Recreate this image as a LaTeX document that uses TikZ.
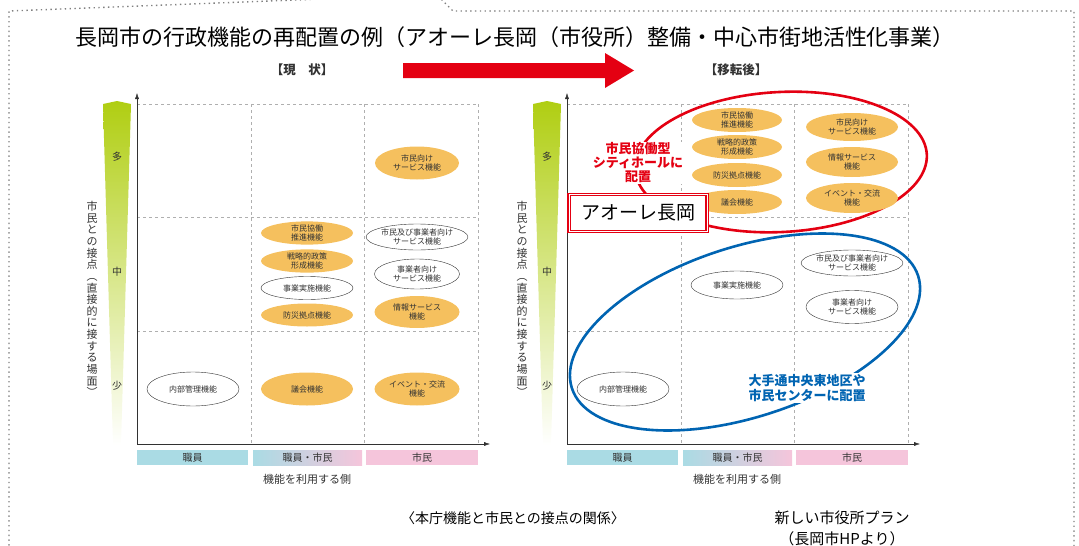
\documentclass[tikz,border=0pt]{standalone}
\usepackage{fontspec}
\setmainfont{Noto Sans CJK JP}
\usetikzlibrary{shapes.geometric,arrows.meta,positioning}

\definecolor{orgfill}{RGB}{245,192,94}
\definecolor{txtgray}{RGB}{50,50,50}
\definecolor{gridgray}{RGB}{175,175,175}
\definecolor{barblue}{RGB}{170,219,228}
\definecolor{barpink}{RGB}{245,197,219}
\definecolor{bargreen}{RGB}{176,206,18}
\definecolor{hlred}{RGB}{228,0,18}
\definecolor{hlblue}{RGB}{0,100,178}

\begin{document}
\begin{tikzpicture}[x=1pt,y=-1pt,
    func/.style={ellipse,fill=orgfill,minimum width=92pt,minimum height=26pt,inner sep=0pt,
        align=center,text=txtgray,font=\fontsize{8}{9}\selectfont},
    funcw/.style={func,fill=white,draw=txtgray,thin},
    lvl/.style={text=txtgray,font=\fontsize{10}{10}\selectfont},
    catbar/.style={minimum height=15pt,inner sep=0pt,text=txtgray,font=\fontsize{10}{10}\selectfont},
    axis/.style={txtgray,thin,{Latex[length=6pt,width=4pt]}-{Latex[length=6pt,width=4pt]}},
    gridline/.style={gridgray,dashed,thin},
    head/.style={text=txtgray,font=\bfseries\fontsize{12.5}{12.5}\selectfont}]

    \useasboundingbox (0,0) rectangle (1079,546);

    % dotted callout frame
    \begin{scope}
        \clip (0,0) rectangle (1079,546);
        \draw[gray,line width=1.4pt,dash pattern=on 1.4pt off 3.4pt] (9,560) -- (9,11) -- (400,-4);
        \draw[gray,line width=1.4pt,dash pattern=on 1.4pt off 3.4pt] (438,-4) -- (453,11) -- (1074,11) -- (1074,560);
    \end{scope}

    % title and headings
    \node (title) at (515,37) {\fontsize{22}{22}\selectfont 長岡市の行政機能の再配置の例（アオーレ長岡（市役所）整備・中心市街地活性化事業）};
    \node[head] (now) at (302,70) {【現　状】};
    \node[head] (after) at (736,70) {【移転後】};
    \fill[hlred] (403,63) -- (605,63) -- (605,53) -- (634,70.5) -- (605,88) -- (605,78) -- (403,78) -- cycle;

    % the two charts
    \foreach \ox/\nm in {0/L,430/R}{
        \shade[top color=bargreen,middle color=bargreen!45,bottom color=white]
            (103+\ox,104) -- (117+\ox,101) -- (131+\ox,104) -- (121+\ox,445) -- (113+\ox,445) -- cycle;
        \node[lvl] (many\nm) at (117+\ox,157) {多};
        \node[lvl] (mid\nm) at (117+\ox,272) {中};
        \node[lvl] (few\nm) at (117+\ox,386) {少};
        \node[text=txtgray,align=center,inner sep=0pt,font=\fontsize{11}{11.65}\selectfont] (touch\nm) at (92+\ox,299)
            {市\\民\\と\\の\\接\\点\\︵\\直\\接\\的\\に\\接\\す\\る\\場\\面\\︶};

        \foreach \gy in {104,217,331}
            \draw[gridline] (137+\ox,\gy) -- (478+\ox,\gy);
        \foreach \gx in {251,364,478}
            \draw[gridline] (\gx+\ox,104) -- (\gx+\ox,444);

        \coordinate (ytop\nm) at (137+\ox,93);
        \coordinate (xend\nm) at (490+\ox,444);
        \draw[axis] (ytop\nm) |- (xend\nm);

        \node[catbar,fill=barblue,minimum width=111pt] (staff\nm) at (192.5+\ox,457.5) {職員};
        \node[catbar,left color=barblue,right color=barpink,minimum width=109pt] (both\nm) at (307.5+\ox,457.5) {職員・市民};
        \node[catbar,fill=barpink,minimum width=112pt] (citz\nm) at (422+\ox,457.5) {市民};
        \node[text=txtgray,font=\fontsize{11}{11}\selectfont] (user\nm) at (307+\ox,479) {機能を利用する側};
    }

    % left chart: present state
    \node[func,minimum width=84pt,minimum height=33pt] (svcL) at (417,163) {市民向け\\サービス機能};
    \node[func,minimum height=23pt] (coopL) at (307,233) {市民協働\\推進機能};
    \node[func,minimum height=23pt] (stratL) at (307,261) {戦略的政策\\形成機能};
    \node[funcw,minimum height=23pt] (execL) at (307,288) {事業実施機能};
    \node[func,minimum height=23pt] (disasterL) at (307,315) {防災拠点機能};
    \node[funcw,minimum width=85pt,minimum height=26pt] (bizcitL) at (417,237) {市民及び事業者向け\\サービス機能};
    \node[funcw,minimum width=85pt,minimum height=30pt] (bizL) at (417,274) {事業者向け\\サービス機能};
    \node[func,minimum width=85pt,minimum height=32pt] (infoL) at (417,312) {情報サービス\\機能};
    \node[funcw,minimum height=34pt] (innerL) at (193,389) {内部管理機能};
    \node[func,minimum height=33pt] (councilL) at (307,389) {議会機能};
    \node[func,minimum width=85pt,minimum height=33pt] (eventL) at (417,389) {イベント・交流\\機能};

    % right chart: after relocation
    \draw[hlred,line width=2.6pt,rotate around={3:(781,162)}] (781,162) ellipse [x radius=146,y radius=70];
    \draw[hlblue,line width=2.6pt,rotate around={18:(745,332)}] (745,332) ellipse [x radius=182,y radius=85];

    \node[func,minimum width=90pt,minimum height=24pt] (coopR) at (737,120) {市民協働\\推進機能};
    \node[func,minimum width=90pt,minimum height=24pt] (stratR) at (737,147) {戦略的政策\\形成機能};
    \node[func,minimum width=90pt,minimum height=24pt] (disasterR) at (737,175) {防災拠点機能};
    \node[func,minimum width=90pt,minimum height=24pt] (councilR) at (737,202) {議会機能};
    \node[func,minimum height=28pt] (svcR) at (852,127) {市民向け\\サービス機能};
    \node[func,minimum height=30pt] (infoR) at (852,162) {情報サービス\\機能};
    \node[func,minimum height=30pt] (eventR) at (852,198) {イベント・交流\\機能};
    \node[funcw,minimum height=28pt] (execR) at (737,285) {事業実施機能};
    \node[funcw,minimum width=88pt,minimum height=26pt] (bizcitR) at (852,263) {市民及び事業者向け\\サービス機能};
    \node[funcw,minimum height=33pt] (bizR) at (852,307) {事業者向け\\サービス機能};
    \node[funcw,minimum height=34pt] (innerR) at (623,389) {内部管理機能};

    \node[fill=white,inner sep=1pt,align=center,text=hlred,font=\bfseries\fontsize{13}{14}\selectfont] (cityhall) at (638,163) {市民協働型\\シティホールに\\配置};
    \node[fill=white,draw=hlred,line width=1.1pt,double=white,double distance=1pt,minimum width=138pt,minimum height=37pt,
        font=\fontsize{19}{19}\selectfont] (aore) at (638,213) {アオーレ長岡};
    \node[fill=white,inner sep=1pt,align=center,text=hlblue,font=\bfseries\fontsize{13}{15}\selectfont] (center) at (807,388) {大手通中央東地区や\\市民センターに配置};

    % captions
    \node[font=\fontsize{14}{14}\selectfont] (relation) at (513,518) {〈本庁機能と市民との接点の関係〉};
    \node[font=\fontsize{15}{15}\selectfont] (plan) at (842,518) {新しい市役所プラン};
    \node[font=\fontsize{15}{15}\selectfont,below=0pt of plan] (source) {（長岡市HPより）};
\end{tikzpicture}
\end{document}
